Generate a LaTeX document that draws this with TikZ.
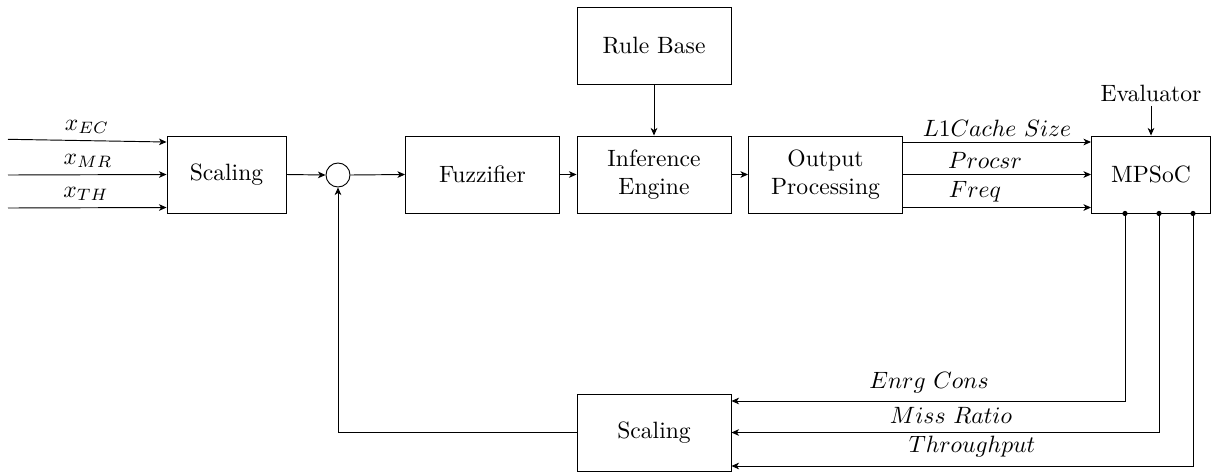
\documentclass[tikz,border=0pt]{standalone}
\usetikzlibrary{arrows.meta,calc}
\begin{document}
\begin{tikzpicture}[x=0.0149cm,y=-0.0149cm,
  >={Stealth[length=3.2pt,width=2.8pt,inset=0.9pt]},
  every path/.style={line width=0.4pt},
  box/.style={draw, inner sep=0pt, align=center, minimum height=77*0.0149cm},
  wbox/.style={box, minimum width=154*0.0149cm},
  nbox/.style={box, minimum width=119*0.0149cm},
  lbl/.style={inner sep=0pt},
  dot/.style={circle, fill, inner sep=0pt, minimum size=2.2pt}]
\useasboundingbox (0,0) rectangle (1217,472);
% nodes
\node[nbox] (sc1) at (226.5,174.5) {Scaling};
\node[draw, circle, inner sep=0pt, minimum size=24*0.0149cm] (sum) at (338,175) {};
\node[wbox] (fuz) at (482.5,174.5) {Fuzzifier};
\node[wbox] (inf) at (654,174.5) {Inference\\Engine};
\node[wbox] (out) at (825.5,174.5) {Output\\Processing};
\node[wbox] (rule) at (654,45.5) {Rule Base};
\node[nbox] (mp) at (1151,174.5) {MPSoC};
\node[wbox] (sc2) at (654,432.5) {Scaling};
\node[lbl] (eval) at (1151,93) {Evaluator};
% input coordinates
\coordinate (i1) at (8,139.3);
\coordinate (i2) at (8,175);
\coordinate (i3) at (8,208);
\draw[->] (i1) -- ($(sc1.west)+(0,-32.5)$);
\draw[->] (i2) -- (sc1.west);
\draw[->] (i3) -- ($(sc1.west)+(0,33)$);
\node[lbl] (lec) at (87,127) {$x_{EC}$};
\node[lbl] (lmr) at (88,161) {$x_{MR}$};
\node[lbl] (lth) at (86,194) {$x_{TH}$};
% main chain
\draw[->] (sc1.east) -- (sum.west);
\draw[->] (sum.east) -- (fuz.west);
\draw[->] (fuz.east) -- (inf.west);
\draw[->] (inf.east) -- (out.west);
\draw[->] (rule.south) -- (inf.north);
\draw[->] (eval.south) ++(0,4) -- (mp.north);
% outputs to MPSoC
\draw[->] ($(out.east)+(0,-32.5)$) -- ($(mp.west)+(0,-32.5)$);
\draw[->] (out.east) -- (mp.west);
\draw[->] ($(out.east)+(0,33)$) -- ($(mp.west)+(0,33)$);
\node[lbl] (l1) at (997,128) {$L1Cache\ Size$};
\node[lbl] (l2) at (985,160) {$Procsr$};
\node[lbl] (l3) at (975,192) {$Freq$};
% feedback
\node[dot] (d1) at ($(mp.south)+(-26,0)$) {};
\node[dot] (d2) at ($(mp.south)+(8,0)$) {};
\node[dot] (d3) at ($(mp.south)+(42,0)$) {};
\draw[->] (d1.center) |- ($(sc2.east)+(0,-31.5)$);
\draw[->] (d2.center) |- (sc2.east);
\draw[->] (d3.center) |- ($(sc2.east)+(0,33.5)$);
\node[lbl] (e1) at (929,383) {$Enrg\ Cons$};
\node[lbl] (e2) at (951,415) {$Miss\ Ratio$};
\node[lbl] (e3) at (972,447) {$Throughput$};
\draw[->] (sc2.west) -| (sum.south);
\end{tikzpicture}
\end{document}
